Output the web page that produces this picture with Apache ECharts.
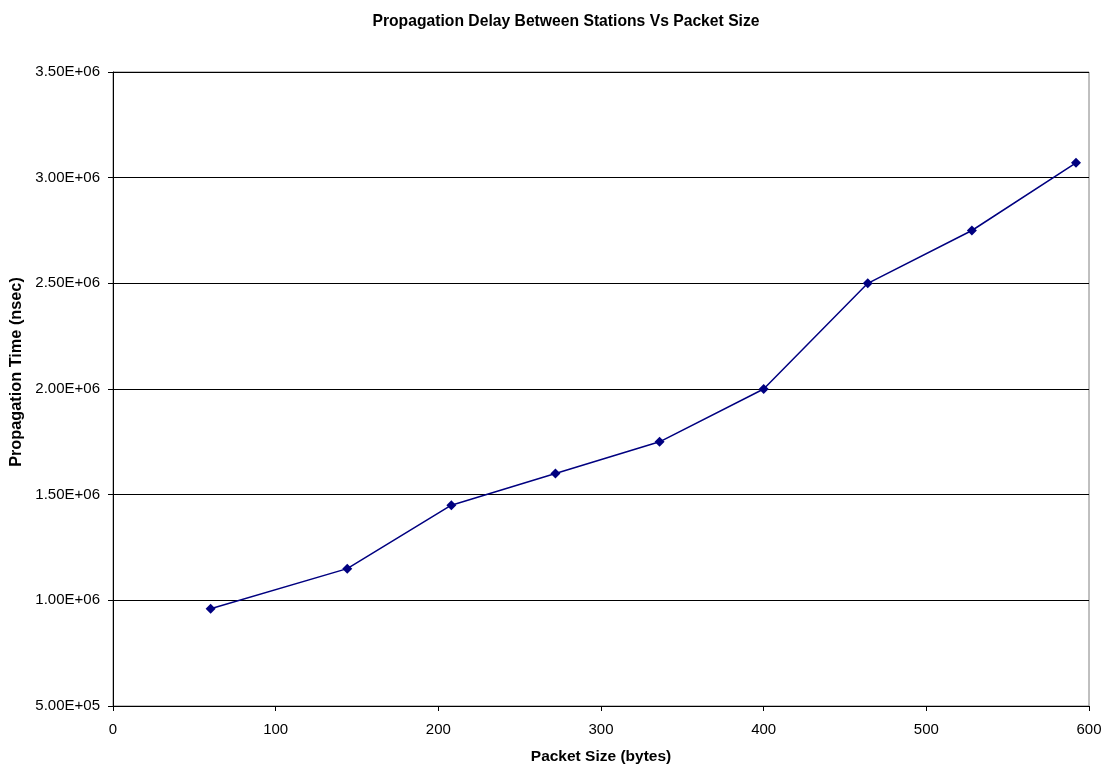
<!DOCTYPE html>
<html>
<head>
<meta charset="utf-8">
<script src="https://cdn.jsdelivr.net/npm/echarts@6/dist/echarts.min.js"></script>
<style>
html, body { margin: 0; padding: 0; background: #fff; }
#chart { width: 1104px; height: 764px; }
</style>
</head>
<body>
<div id="chart"></div>
<script>
// Packet sizes (bytes) and measured propagation delay (nsec)
const packetSizes = [60, 144, 208, 272, 336, 400, 464, 528, 592];
const propagationTimes = [960000, 1150000, 1450000, 1600000, 1750000, 2000000, 2500000, 2750000, 3070000];

const titleText = 'Propagation Delay Between Stations Vs Packet Size';
const xAxisName = 'Packet Size (bytes)';
const yAxisName = 'Propagation Time (nsec)';

// Scientific notation like 3.50E+06
function sci(v) {
  const s = Number(v).toExponential(2).toUpperCase();
  const m = s.match(/^(-?[\d.]+)E([+-])(\d+)$/);
  if (!m) return s;
  return m[1] + 'E' + m[2] + (m[3].length < 2 ? '0' + m[3] : m[3]);
}

const font = 'Liberation Sans, Arial, sans-serif';
const chart = echarts.init(document.getElementById('chart'), null, { renderer: 'canvas' });

chart.setOption({
  animation: false,
  backgroundColor: '#ffffff',
  title: {
    text: titleText,
    left: 561,
    textAlign: 'center',
    top: 9,
    textStyle: { fontFamily: font, fontSize: 15.7, fontWeight: 'bold', color: '#000' }
  },
  grid: {
    left: 113, right: 15, top: 72, bottom: 58,
    outerBoundsMode: 'none',
    containLabel: false,
    show: true, borderColor: '#808080', borderWidth: 1, backgroundColor: '#fff'
  },
  xAxis: {
    type: 'value',
    min: 0, max: 600, interval: 100,
    name: xAxisName,
    nameLocation: 'middle',
    nameGap: 43,
    nameTextStyle: { fontFamily: font, fontSize: 15.5, fontWeight: 'bold', color: '#000' },
    axisLine: { show: true, onZero: false, lineStyle: { color: '#000', width: 1 } },
    axisTick: { show: true, inside: false, length: 5, lineStyle: { color: '#000' } },
    axisLabel: { fontFamily: font, fontSize: 15, color: '#000', margin: 16 },
    splitLine: { show: false }
  },
  yAxis: {
    type: 'value',
    min: 500000, max: 3500000, interval: 500000,
    name: yAxisName,
    nameLocation: 'middle',
    nameGap: 88,
    nameTextStyle: { fontFamily: font, fontSize: 16.3, fontWeight: 'bold', color: '#000', padding: [0, 0, 0, 34] },
    axisLine: { show: true, onZero: false, lineStyle: { color: '#000', width: 1 } },
    axisTick: { show: true, inside: false, length: 5, lineStyle: { color: '#000' } },
    axisLabel: { fontFamily: font, fontSize: 15, color: '#000', margin: 13, formatter: sci },
    splitLine: { show: true, lineStyle: { color: '#000', width: 1 } }
  },
  series: [{
    type: 'line',
    data: packetSizes.map((x, i) => [x, propagationTimes[i]]),
    symbol: 'diamond',
    symbolSize: 10,
    showAllSymbol: true,
    lineStyle: { color: '#000080', width: 1.5 },
    itemStyle: { color: '#000080' }
  }]
});
</script>
</body>
</html>
